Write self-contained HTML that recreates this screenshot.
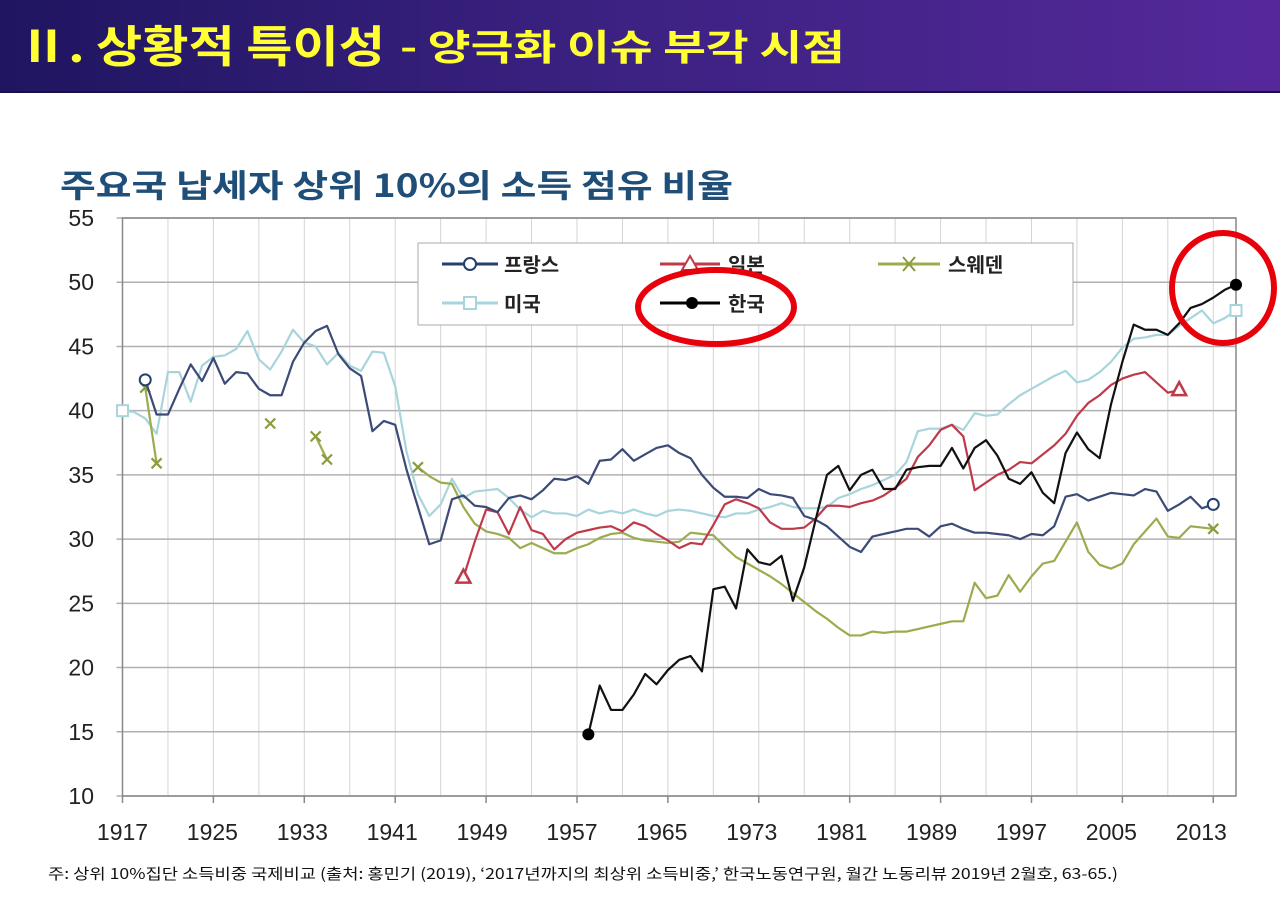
<!DOCTYPE html>
<html><head><meta charset="utf-8">
<style>
html,body{margin:0;padding:0;background:#fff;}
svg{display:block;font-family:"Liberation Sans","Noto Sans CJK KR",sans-serif;}
</style></head>
<body>
<svg id="chart" width="1280" height="920" viewBox="0 0 1280 920" xmlns="http://www.w3.org/2000/svg">
<defs>
<linearGradient id="hdr" x1="0" x2="1" y1="0" y2="0">
<stop offset="0" stop-color="#1f1560"/><stop offset="0.45" stop-color="#3a2180"/><stop offset="1" stop-color="#55289a"/>
</linearGradient>
</defs>
<rect x="0" y="0" width="1280" height="93" fill="url(#hdr)"/>
<rect x="0" y="91" width="1280" height="2" fill="#1a1045"/>
<text x="18" y="62" fill="#ffff33" font-weight="bold" font-size="44" font-family="'Noto Sans CJK KR',sans-serif" textLength="367" lengthAdjust="spacingAndGlyphs">Ⅱ. 상황적 특이성</text>
<text x="400" y="60" fill="#ffff33" font-weight="bold" font-size="36" font-family="'Noto Sans CJK KR',sans-serif" textLength="445" lengthAdjust="spacingAndGlyphs">- 양극화 이슈 부각 시점</text>
<text x="60" y="197" fill="#1f4e79" font-weight="bold" font-size="32" font-family="'Noto Sans CJK KR',sans-serif" textLength="673" lengthAdjust="spacingAndGlyphs">주요국 납세자 상위 10%의 소득 점유 비율</text>
<g id="grid"></g>
<g id="axes"></g>
<g id="series"></g>
<g>
<rect x="418" y="243" width="655" height="82" fill="#fff" stroke="#aaa" stroke-width="1"/>
<g>
<line x1="442" y1="264" x2="498" y2="264" stroke="#24406e" stroke-width="3"/><circle cx="470" cy="264" r="6" fill="#fff" stroke="#24406e" stroke-width="2"/>
<text x="504" y="272" font-size="20" font-weight="bold" fill="#222" font-family="'Noto Sans CJK KR',sans-serif">프랑스</text></g>
<g>
<line x1="660" y1="264" x2="720" y2="264" stroke="#c0394a" stroke-width="3"/><polygon points="690,256 698,270 682,270" fill="#fff" stroke="#c0394a" stroke-width="2"/>
<text x="728" y="272" font-size="20" font-weight="bold" fill="#222" font-family="'Noto Sans CJK KR',sans-serif">일본</text></g>
<g>
<line x1="878" y1="264" x2="940" y2="264" stroke="#9aac4e" stroke-width="3"/><path d="M903 257 L915 271 M915 257 L903 271" stroke="#8a9c3e" stroke-width="2"/>
<text x="948" y="272" font-size="20" font-weight="bold" fill="#222" font-family="'Noto Sans CJK KR',sans-serif">스웨덴</text></g>
<g>
<line x1="442" y1="303" x2="498" y2="303" stroke="#a8d4dc" stroke-width="3"/><rect x="464" y="297" width="12" height="12" fill="#fff" stroke="#a8d4dc" stroke-width="2"/>
<text x="504" y="311" font-size="20" font-weight="bold" fill="#222" font-family="'Noto Sans CJK KR',sans-serif">미국</text></g>
<g>
<line x1="660" y1="303" x2="720" y2="303" stroke="#000" stroke-width="3"/><circle cx="692" cy="303" r="6" fill="#000"/>
<text x="728" y="311" font-size="20" font-weight="bold" fill="#222" font-family="'Noto Sans CJK KR',sans-serif">한국</text></g>
</g>
<ellipse cx="716" cy="307" rx="78" ry="37" fill="none" stroke="#e8000a" stroke-width="6"/>
<ellipse cx="1223" cy="288" rx="51" ry="55" fill="none" stroke="#e8000a" stroke-width="6"/>
<text x="48" y="879" font-size="15" fill="#111" font-family="'Noto Sans CJK KR',sans-serif" textLength="1070" lengthAdjust="spacingAndGlyphs">주: 상위 10%집단 소득비중 국제비교 (출처: 홍민기 (2019), ‘2017년까지의 최상위 소득비중,’ 한국노동연구원, 월간 노동리뷰 2019년 2월호, 63-65.)</text>
</svg>
<script>
const yTicks = [10,15,20,25,30,35,40,45,50,55];
const xTickYears = [1917,1925,1933,1941,1949,1957,1965,1973,1981,1989,1997,2005,2013];
const franceStart = 1919;
const franceValues = [42.4,39.7,39.7,41.7,43.6,42.3,44.1,42.1,43,42.9,
41.7,41.2,41.2,43.8,45.3,46.2,46.6,44.4,43.3,42.7,
38.4,39.2,38.9,35.4,32.5,29.6,29.9,33.1,33.4,32.6,
32.5,32.1,33.2,33.4,33.1,33.8,34.7,34.6,34.9,34.3,
36.1,36.2,37,36.1,36.6,37.1,37.3,36.7,36.3,35,
34,33.3,33.3,33.2,33.9,33.5,33.4,33.2,31.8,31.5,
31,30.2,29.4,29,30.2,30.4,30.6,30.8,30.8,30.2,
31,31.2,30.8,30.5,30.5,30.4,30.3,30,30.4,30.3,
31,33.3,33.5,33,33.3,33.6,33.5,33.4,33.9,33.7,
32.2,32.7,33.3,32.4,32.7];
const usaStart = 1917;
const usaValues = [40,39.9,39.4,38.2,43,43,40.7,43.5,44.2,44.3,
44.8,46.2,44,43.2,44.6,46.3,45.3,45,43.6,44.5,
43.5,43.1,44.6,44.5,41.9,36.8,33.5,31.8,32.7,34.7,
33.2,33.7,33.8,33.9,33.2,32.3,31.7,32.2,32,32,
31.8,32.3,32,32.2,32,32.3,32,31.8,32.2,32.3,
32.2,32,31.8,31.7,32,32,32.3,32.5,32.8,32.5,
32.4,32.4,32.5,33.2,33.5,33.9,34.2,34.6,35,36,
38.4,38.6,38.6,38.9,38.5,39.8,39.6,39.7,40.5,41.2,
41.7,42.2,42.7,43.1,42.2,42.4,43,43.8,44.9,45.6,
45.7,45.9,45.9,46.6,47.2,47.8,46.8,47.2,47.8];
const japanStart = 1947;
const japanValues = [27,29.8,32.3,32.1,30.4,32.5,30.7,30.4,29.2,30,
30.5,30.7,30.9,31,30.6,31.3,31,30.4,29.9,29.3,
29.7,29.6,31.1,32.7,33.1,32.8,32.4,31.3,30.8,30.8,
30.9,31.6,32.6,32.6,32.5,32.8,33,33.4,34,34.7,
36.4,37.3,38.5,38.9,38,33.8,34.4,35,35.4,36,
35.9,36.6,37.3,38.2,39.6,40.6,41.2,42,42.5,42.8,
43,42.2,41.4,41.6];
const swedenStart = 1919;
const swedenValues = [41.8,35.9,null,null,null,null,null,null,null,null,
null,39,null,null,null,38,36.2,null,null,null,
null,null,null,null,35.6,34.9,34.4,34.3,32.5,31.2,
30.6,30.4,30.1,29.3,29.7,29.3,28.9,28.9,29.3,29.6,
30.1,30.4,30.5,30.1,29.9,29.8,29.7,29.8,30.5,30.4,
30.3,29.4,28.6,28.1,27.6,27.1,26.5,25.8,25.1,24.4,
23.8,23.1,22.5,22.5,22.8,22.7,22.8,22.8,23,23.2,
23.4,23.6,23.6,26.6,25.4,25.6,27.2,25.9,27.1,28.1,
28.3,29.8,31.3,29,28,27.7,28.1,29.6,30.6,31.6,
30.2,30.1,31,30.9,30.8];
const koreaStart = 1958;
const koreaValues = [14.8,18.6,16.7,16.7,17.9,19.5,18.7,19.8,20.6,20.9,
19.7,26.1,26.3,24.6,29.2,28.2,28,28.7,25.2,27.8,
31.5,35,35.7,33.8,35,35.4,33.9,33.9,35.4,35.6,
35.7,35.7,37.1,35.5,37.1,37.7,36.5,34.7,34.3,35.2,
33.6,32.8,36.7,38.3,37,36.3,40.5,43.8,46.7,46.3,
46.3,45.9,46.8,48,48.3,48.8,49.4,49.8];

const NS='http://www.w3.org/2000/svg';
const X0=122.5,X1=1236,Y0=796,Y1=218,YR0=1917,YR1=2015,V0=10,V1=55;
function xs(yr){return X0+(yr-YR0)/(YR1-YR0)*(X1-X0);}
function ys(v){return Y0-(v-V0)/(V1-V0)*(Y0-Y1);}
function mk(tag,attrs,parent){const e=document.createElementNS(NS,tag);for(const k in attrs)e.setAttribute(k,attrs[k]);parent.appendChild(e);return e;}
const grid=document.getElementById('grid'),axes=document.getElementById('axes'),ser=document.getElementById('series');
for(let yr=YR0;yr<=YR1;yr+=4){
  const l=mk('line',{x1:xs(yr),x2:xs(yr),y1:Y1,y2:Y0,stroke:'#d4d4d4','stroke-width':1},grid);
  
  
}
yTicks.forEach(v=>{
  const l=mk('line',{x1:X0-6,x2:X1,y1:ys(v),y2:ys(v),stroke:'#b0b0b0','stroke-width':1.5},grid);
  
  
  const t=mk('text',{x:94,y:ys(v)+8,'text-anchor':'end','font-size':23,fill:'#222'},axes);
  t.textContent=v;
  
  
});
const fr=mk('rect',{x:X0,y:Y1,width:X1-X0,height:Y0-Y1,fill:'none',stroke:'#888','stroke-width':1.5},axes);


xTickYears.forEach((yr,i)=>{
  const l=mk('line',{x1:xs(yr),x2:xs(yr),y1:Y0,y2:Y0+7,stroke:'#888','stroke-width':1.5},axes);
  
  
  const t=mk('text',{x:xs(yr)-i,y:840,'text-anchor':'middle','font-size':23,fill:'#222'},axes);
  t.textContent=yr;
  
  
});
function drawSeries(name,start,vals,color,width){
  const g=mk('g',{},ser);
  
  
  let seg=[];const segs=[];
  vals.forEach((v,i)=>{if(v==null){if(seg.length)segs.push(seg);seg=[];}else seg.push([xs(start+i),ys(v)]);});
  if(seg.length)segs.push(seg);
  segs.forEach(s=>{if(s.length>1){
    const p=mk('polyline',{points:s.map(q=>q.join(',')).join(' '),fill:'none',stroke:color,'stroke-width':width,'stroke-linejoin':'round'},g);
    
    
  }});
  return {g,segs};
}
function marker(g,type,x,y,color){
  let e;
  if(type==='circle')e=mk('circle',{cx:x,cy:y,r:5.5,fill:'#fff',stroke:color,'stroke-width':2},g);
  else if(type==='dot')e=mk('circle',{cx:x,cy:y,r:6,fill:'#000'},g);
  else if(type==='square')e=mk('rect',{x:x-5.5,y:y-5.5,width:11,height:11,fill:'#fff',stroke:color,'stroke-width':2},g);
  else if(type==='tri')e=mk('polygon',{points:`${x},${y-8} ${x+7},${y+5} ${x-7},${y+5}`,fill:'#fff',stroke:color,'stroke-width':2.5},g);
  else e=mk('path',{d:`M${x-5} ${y-5}L${x+5} ${y+5}M${x+5} ${y-5}L${x-5} ${y+5}`,stroke:color,'stroke-width':2.2},g);
  
  
}
function ends(res,type,color,allSegEnds){
  const s=res.segs;
  if(allSegEnds){s.forEach(sg=>{marker(res.g,type,sg[0][0],sg[0][1],color);if(sg.length>1)marker(res.g,type,sg[sg.length-1][0],sg[sg.length-1][1],color);});}
  else{const a=s[0][0],b=s[s.length-1][s[s.length-1].length-1];marker(res.g,type,a[0],a[1],color);marker(res.g,type,b[0],b[1],color);}
}
const us=drawSeries('usa',usaStart,usaValues,'#a8d4dc',2.2);
const sw=drawSeries('sweden',swedenStart,swedenValues,'#9aac4e',2.2);
const jp=drawSeries('japan',japanStart,japanValues,'#c0394a',2.2);
const frs=drawSeries('france',franceStart,franceValues,'#3c4a78',2.2);
const kr=drawSeries('korea',koreaStart,koreaValues,'#111',2.2);
ends(us,'square','#a8d4dc');
ends(sw,'x','#8a9c3e',true);
ends(jp,'tri','#c0394a');
ends(frs,'circle','#24406e');
ends(kr,'dot','#000');
</script>
</body></html>
